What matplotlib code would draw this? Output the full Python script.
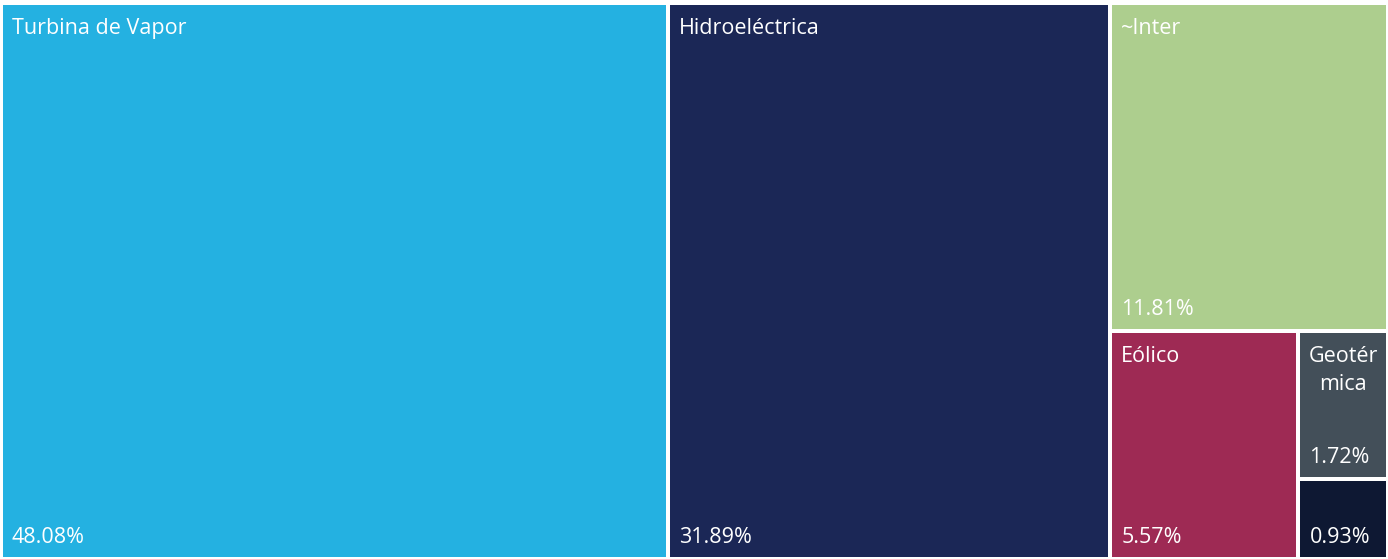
import matplotlib.pyplot as plt
from matplotlib.patches import Rectangle

W, H = 1388, 559

labels = ["Turbina de Vapor", "Hidroeléctrica", "~Inter", "Eólico", "Geotérmica", "Otros"]
values = [48.08, 31.89, 11.81, 5.57, 1.72, 0.93]
colors = ["#24B1E1", "#1B2756", "#ADCE8E", "#9E2A54", "#434F59", "#0E1833"]


def worst(row, side):
    s = sum(row)
    return max(max(side * side * r / (s * s), s * s / (side * side * r)) for r in row)


def squarify(areas, x, y, w, h):
    rects = []
    areas = list(areas)
    while areas:
        side = min(w, h)
        row = [areas[0]]
        i = 1
        while i < len(areas) and worst(row + [areas[i]], side) <= worst(row, side):
            row.append(areas[i])
            i += 1
        areas = areas[i:]
        s = sum(row)
        if w >= h:
            rw = s / h
            yy = y
            for a in row:
                rects.append((x, yy, rw, a / rw))
                yy += a / rw
            x += rw
            w -= rw
        else:
            rh = s / w
            xx = x
            for a in row:
                rects.append((xx, y, a / rh, rh))
                xx += a / rh
            y += rh
            h -= rh
    return rects


fig = plt.figure(figsize=(W / 100, H / 100), dpi=100)
ax = fig.add_axes([0, 0, 1, 1])
ax.set_xlim(0, W)
ax.set_ylim(H, 0)
ax.axis("off")

x0, y0, x1, y1 = 1, 3, W, H
tot = sum(values)
areas = [v / tot * (x1 - x0) * (y1 - y0) for v in values]
rects = squarify(areas, x0, y0, x1 - x0, y1 - y0)

g = 2
fs = 15.5
font = "Open Sans"
kw = dict(color="white", fontsize=fs, family=font, va="baseline")
for (x, y, w, h), lab, val, col in zip(rects, labels, values, colors):
    ax.add_patch(Rectangle((x + g, y + g), w - 2 * g, h - 2 * g, facecolor=col, edgecolor="none"))
    pad = 9
    top = y + g
    if h > 100:
        if len(lab) * 11 > w - 2 * pad:
            n = int((w - 2 * pad) / 11)
            parts = [lab[k:k + n] for k in range(0, len(lab), n)]
            for j, p in enumerate(parts):
                ax.text(x + w / 2, top + 29 + 28 * j, p, ha="center", **kw)
        else:
            ax.text(x + g + pad, top + 29, lab, ha="left", **kw)
    ax.text(x + g + pad, y + h - g - 14, f"{val:.2f}%", ha="left", **kw)

fig.savefig("out.png", dpi=100, facecolor="white")
